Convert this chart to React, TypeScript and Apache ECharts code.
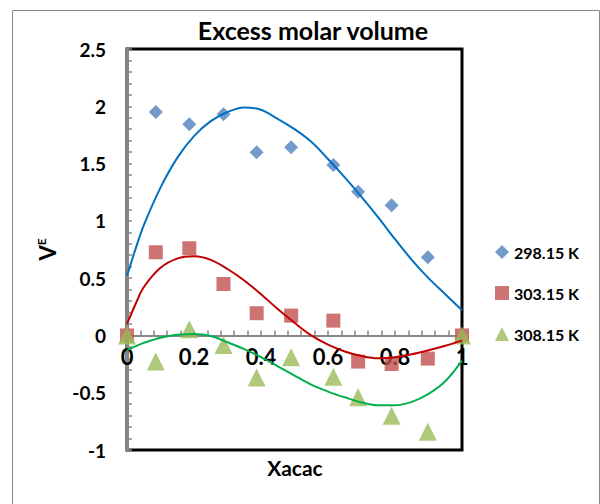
import React, { useEffect, useRef } from "react";
import * as echarts from "echarts";

// ---- data ----
const xData = [0, 0.086, 0.186, 0.288, 0.387, 0.49, 0.616, 0.69, 0.79, 0.898, 1];
const x298 = [0.086, 0.186, 0.288, 0.387, 0.49, 0.616, 0.69, 0.79, 0.898];
const v298 = [1.95, 1.843, 1.93, 1.598, 1.642, 1.488, 1.255, 1.136, 0.682];
const v303 = [0, 0.726, 0.761, 0.449, 0.194, 0.173, 0.129, -0.228, -0.249, -0.202, 0];
const v308 = [0, -0.228, 0.054, -0.083, -0.368, -0.19, -0.36, -0.54, -0.7, -0.84, 0];

// trendlines
const fitX = [0, 0.025, 0.05, 0.1, 0.15, 0.2, 0.25, 0.3, 0.35, 0.4, 0.45, 0.5, 0.55, 0.6, 0.65, 0.7, 0.75, 0.8, 0.85, 0.9, 0.95, 1];
const fit298Y = [0.52, 0.75, 0.96, 1.29, 1.55, 1.74, 1.87, 1.95, 1.99, 1.97, 1.89, 1.8, 1.69, 1.54, 1.38, 1.21, 1.03, 0.84, 0.66, 0.5, 0.36, 0.22];
const fit303Y = [0.1, 0.27, 0.42, 0.59, 0.67, 0.69, 0.66, 0.58, 0.48, 0.36, 0.23, 0.11, 0.0, -0.08, -0.14, -0.18, -0.2, -0.19, -0.165, -0.13, -0.09, -0.045];
const fit308Y = [-0.127, -0.095, -0.065, -0.02, 0.005, 0.012, -0.005, -0.06, -0.12, -0.19, -0.27, -0.35, -0.43, -0.49, -0.54, -0.585, -0.61, -0.61, -0.58, -0.51, -0.4, -0.22];

const seriesNames = ["298.15 K", "303.15 K", "308.15 K"];
const markerColors = ["#4F81BD", "#C0504D", "#9BBB59"];
const lineColors = ["#0070C0", "#C00000", "#00B050"];

const X_MIN = 0;
const X_MAX = 1;
const Y_MIN = -1;
const Y_MAX = 2.5;

const FONT = "Lato, 'Open Sans', sans-serif";
const GRAY = "#868686";

const zip = (xs: number[], ys: number[]) => xs.map((x, i) => [x, ys[i]]);

export default function App() {
  const ref = useRef<HTMLDivElement>(null);
  useEffect(() => {
    const chart = echarts.init(ref.current!, null, { renderer: "svg" });
    const tickStyle = { color: GRAY, width: 1.5 };
    const gridHeight = 401;
    // place the x axis on y = 0
    const zeroOffset = -gridHeight * (0 - Y_MIN) / (Y_MAX - Y_MIN);
    const fitLine = (y: number[], color: string) => ({
      type: "line",
      smooth: 0.35,
      showSymbol: false,
      silent: true,
      lineStyle: { color, width: 2 },
      data: zip(fitX, y),
      z: 3,
    });
    const option: any = {
      animation: false,
      backgroundColor: "#fff",
      textStyle: { fontFamily: FONT },
      grid: {
        left: 127,
        top: 49,
        width: 335,
        height: gridHeight,
        containLabel: false,
        show: true,
        borderColor: "#000",
        borderWidth: 3,
        backgroundColor: "transparent",
      },
      graphic: [
        {
          type: "rect",
          z: -10,
          shape: { x: 12.5, y: 10.5, width: 587, height: 520 },
          style: { fill: "none", stroke: "#898989", lineWidth: 1 },
        },
        {
          type: "text",
          x: 313,
          y: 30,
          style: {
            text: "Excess molar volume",
            fontFamily: FONT,
            fontWeight: "bold",
            fontSize: 25,
            fill: "#000",
            align: "center",
            verticalAlign: "middle",
          },
        },
        {
          type: "text",
          x: 295,
          y: 467,
          style: {
            text: "Xacac",
            fontFamily: FONT,
            fontWeight: "bold",
            fontSize: 21,
            fill: "#000",
            align: "center",
            verticalAlign: "middle",
          },
        },
      ],
      legend: {
        orient: "vertical",
        left: 495,
        top: 244,
        padding: 0,
        itemWidth: 14,
        itemHeight: 14,
        itemGap: 25,
        data: seriesNames,
        textStyle: { fontFamily: FONT, fontWeight: "bold", fontSize: 16, lineHeight: 16, color: "#000" },
      },
      xAxis: {
        type: "value",
        min: X_MIN,
        max: X_MAX,
        interval: 0.2,
        position: "bottom",
        offset: zeroOffset,
        axisLine: { onZero: false, lineStyle: { color: GRAY, width: 2 } },
        axisTick: { show: true, inside: true, length: 5, lineStyle: tickStyle },
        minorTick: { show: true, splitNumber: 5, length: 5, lineStyle: tickStyle },
        splitLine: { show: false },
        axisLabel: {
          fontFamily: FONT,
          fontWeight: "bold",
          fontSize: 22,
          color: "#000",
          margin: 10,
        },
      },
      yAxis: {
        type: "value",
        min: Y_MIN,
        max: Y_MAX,
        interval: 0.5,
        position: "left",
        name: "{v|V}{e|E}",
        nameLocation: "middle",
        nameGap: 68,
        nameRotate: 90,
        nameTextStyle: {
          rich: {
            v: { fontFamily: FONT, fontWeight: "bold", fontSize: 22, color: "#000", lineHeight: 24 },
            e: { fontFamily: FONT, fontWeight: "bold", fontSize: 12, color: "#000", verticalAlign: "top", lineHeight: 14 },
          },
        },
        axisLine: { onZero: false, lineStyle: { color: GRAY, width: 3 } },
        axisTick: { show: true, inside: true, length: 5, lineStyle: tickStyle },
        minorTick: { show: true, splitNumber: 5, length: 5, lineStyle: tickStyle },
        splitLine: { show: false },
        axisLabel: {
          fontFamily: FONT,
          fontWeight: "bold",
          fontSize: 19,
          color: "#000",
          margin: 21,
        },
      },
      series: [
        {
          name: seriesNames[0],
          type: "scatter",
          symbol: "diamond",
          symbolSize: 14,
          itemStyle: { color: markerColors[0] },
          data: zip(x298, v298),
        },
        {
          name: seriesNames[1],
          type: "scatter",
          symbol: "rect",
          symbolSize: 14,
          itemStyle: { color: markerColors[1] },
          data: zip(xData, v303),
        },
        {
          name: seriesNames[2],
          type: "scatter",
          symbol: "triangle",
          symbolSize: 18,
          itemStyle: { color: markerColors[2] },
          data: zip(xData, v308),
        },
        fitLine(fit298Y, lineColors[0]),
        fitLine(fit303Y, lineColors[1]),
        fitLine(fit308Y, lineColors[2]),
      ],
    };
    chart.setOption(option);
    return () => chart.dispose();
  }, []);
  return (
    <div
      ref={ref}
      style={{ position: "fixed", left: 0, top: 0, width: 600, height: 504, background: "#fff" }}
    />
  );
}
